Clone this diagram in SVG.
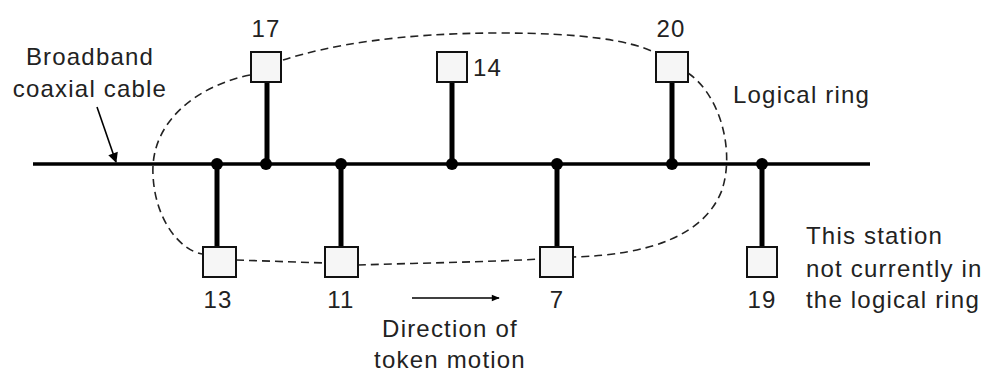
<svg xmlns="http://www.w3.org/2000/svg" width="991" height="373" viewBox="0 0 991 373">
<style>
text{font-family:"Liberation Sans",Arial,sans-serif;font-size:24px;fill:#222;letter-spacing:1.2px}
.box{fill:#f6f6f6;stroke:#111;stroke-width:2}
.stem{stroke:#000;stroke-width:5}
.dot{fill:#000}
.bus{stroke:#000;stroke-width:3.5;fill:none}
.ring{fill:none;stroke:#222;stroke-width:1.6;stroke-dasharray:8 5}
.arr{stroke:#000;stroke-width:1.6;fill:none}
</style>
<defs>
<marker id="ah" viewBox="0 0 10 10" refX="9" refY="5" markerWidth="14" markerHeight="10" markerUnits="userSpaceOnUse" orient="auto">
<path d="M0,0 L10,5 L0,10 z" fill="#000"/>
</marker>
<marker id="ah2" viewBox="0 0 10 10" refX="9" refY="5" markerWidth="14" markerHeight="8" markerUnits="userSpaceOnUse" orient="auto">
<path d="M0,1 L10,5 L0,9 z" fill="#000"/>
</marker>
</defs>
<rect width="991" height="373" fill="#fff"/>
<g id="connectors">
<line class="bus" x1="33" y1="164" x2="870" y2="164"/>
<line class="stem" x1="267" y1="82" x2="267" y2="164"/>
<line class="stem" x1="452" y1="82" x2="452" y2="164"/>
<line class="stem" x1="672" y1="82" x2="672" y2="164"/>
<line class="stem" x1="217" y1="164" x2="217" y2="247"/>
<line class="stem" x1="341" y1="164" x2="341" y2="247"/>
<line class="stem" x1="557" y1="164" x2="557" y2="247"/>
<line class="stem" x1="762" y1="164" x2="762" y2="247"/>
<circle class="dot" cx="217" cy="164" r="6"/>
<circle class="dot" cx="266" cy="164" r="6"/>
<circle class="dot" cx="341" cy="164" r="6"/>
<circle class="dot" cx="452" cy="164" r="6"/>
<circle class="dot" cx="557" cy="164" r="6"/>
<circle class="dot" cx="672" cy="164" r="6"/>
<circle class="dot" cx="762" cy="164" r="6"/>
<path class="ring" d="M250,75 C200,85 150,120 153,175 C155,220 180,250 202,254"/>
<path class="ring" d="M283,60 C330,45 400,33 500,33 C580,33 630,40 656,53"/>
<path class="ring" d="M688,73 C720,95 735,150 722,190 C705,235 650,255 573,257"/>
<path class="ring" d="M236,260 L325,263"/>
<path class="ring" d="M358,265 C420,263 490,262 540,259"/>
<line class="arr" x1="97" y1="107" x2="116" y2="162" marker-end="url(#ah)"/>
<line class="arr" x1="412" y1="298" x2="499" y2="298" marker-end="url(#ah2)"/>
</g>
<g id="n17"><rect class="box" x="251" y="52" width="30" height="30"/><text x="266" y="37" text-anchor="middle">17</text></g>
<g id="n14"><rect class="box" x="437" y="52" width="30" height="30"/><text x="473" y="76">14</text></g>
<g id="n20"><rect class="box" x="656" y="52" width="32" height="30"/><text x="671" y="37" text-anchor="middle">20</text></g>
<g id="n13"><rect class="box" x="203" y="247" width="33" height="30"/><text x="218" y="308" text-anchor="middle">13</text></g>
<g id="n11"><rect class="box" x="325" y="247" width="33" height="30"/><text x="341" y="308" text-anchor="middle">11</text></g>
<g id="n7"><rect class="box" x="540" y="247" width="33" height="30"/><text x="557" y="308" text-anchor="middle">7</text></g>
<g id="n19"><rect class="box" x="747" y="247" width="30" height="30"/><text x="762" y="308" text-anchor="middle">19</text></g>
<g id="labels">
<text x="90" y="65" text-anchor="middle">Broadband</text>
<text x="90" y="97" text-anchor="middle">coaxial cable</text>
<text x="733" y="103">Logical ring</text>
<text x="806" y="244">This station</text>
<text x="806" y="277">not currently in</text>
<text x="806" y="308">the logical ring</text>
<text x="450" y="337" text-anchor="middle">Direction of</text>
<text x="450" y="368" text-anchor="middle">token motion</text>
</g>
</svg>
